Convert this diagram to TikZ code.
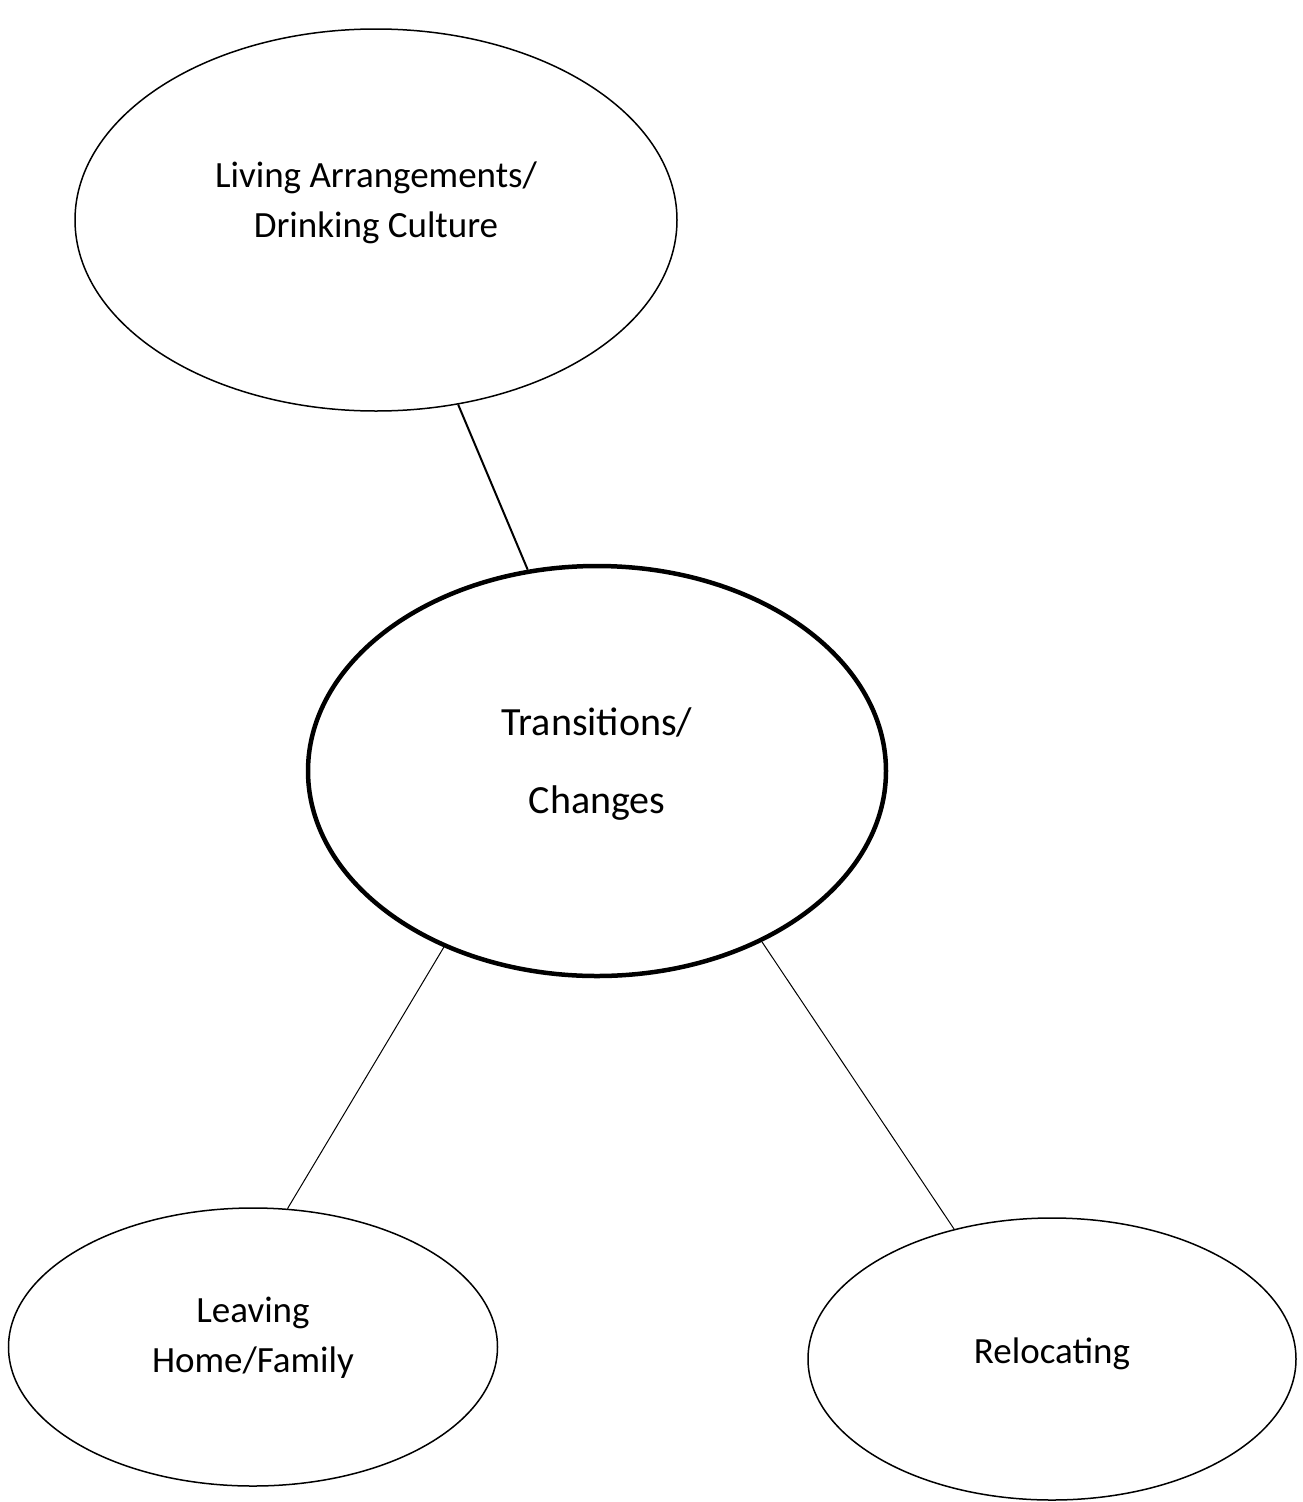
\documentclass[tikz,border=0pt]{standalone}
\usepackage{fontspec}
\setmainfont{Carlito}
\usetikzlibrary{shapes.geometric}
\begin{document}
\begin{tikzpicture}[x=1pt,y=-1pt,
  bubble/.style={draw,ellipse,line width=1.5pt,inner sep=0pt},
  label/.style={align=center,inner sep=0pt,font=\fontsize{37}{50}\selectfont},
  link/.style={draw,line width=1pt}]
\useasboundingbox (0,0) rectangle (1302,1502);
\node[bubble,minimum width=602pt,minimum height=382pt] (living) at (376,220) {};
\node[label] (livingt) at (376,203) {Living Arrangements/\\Drinking Culture};
\node[bubble,line width=4.5pt,minimum width=578pt,minimum height=410pt] (trans) at (597,771) {};
\node[label,font=\fontsize{40}{78}\selectfont] (transt) at (597,764) {Transitions/\\Changes};
\node[bubble,minimum width=489pt,minimum height=278pt] (leaving) at (253,1347) {};
\node[label] (leavingt) at (253,1338) {Leaving\\Home/Family};
\node[bubble,minimum width=488pt,minimum height=282pt] (reloc) at (1052,1359) {};
\node[label] (reloct) at (1052,1354) {Relocating};
\draw[link,line width=2pt] (living.-66) -- (trans.109);
\draw[link] (trans.-131.6) -- (leaving.76.3);
\draw[link] (trans.-46.2) -- (reloc.127.4);
\end{tikzpicture}
\end{document}
